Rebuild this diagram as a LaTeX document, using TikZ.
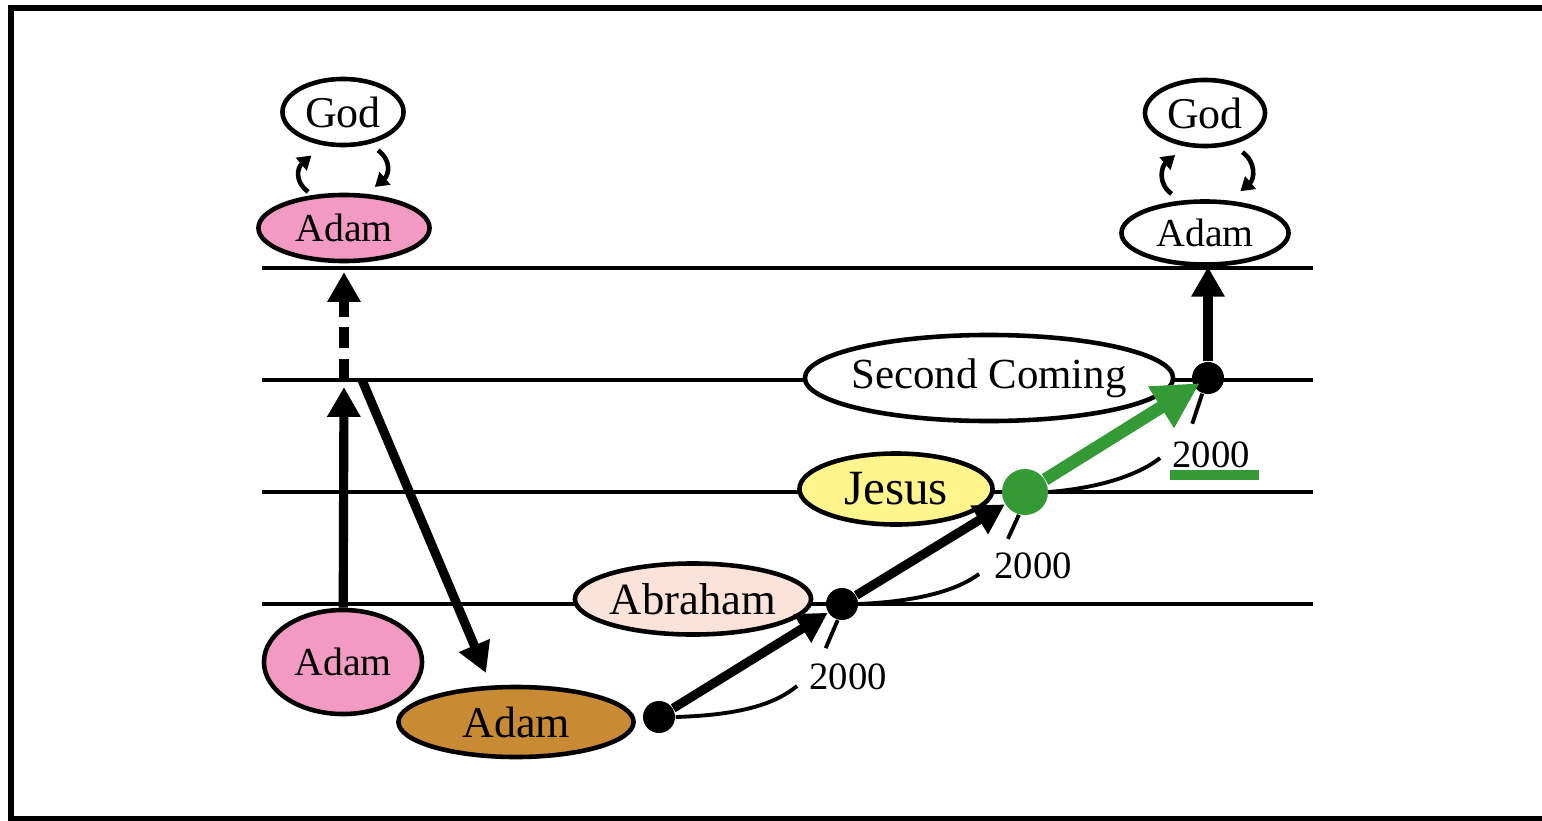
\documentclass[tikz,border=0pt]{standalone}
\usepackage{fontspec}
\setmainfont{Liberation Serif}
\usetikzlibrary{calc}
\usetikzlibrary{arrows.meta}
\usetikzlibrary{shapes.geometric}

\definecolor{adampink}{HTML}{F29AC2}
\definecolor{adambrown}{HTML}{C88B34}
\definecolor{abrahampeach}{HTML}{FCE3D9}
\definecolor{jesusyellow}{HTML}{FFF58C}
\definecolor{restgreen}{HTML}{339A36}

\tikzset{
  person/.style={ellipse, draw, line width=1.3pt, fill=white, inner sep=0pt},
  era/.style={line width=1.2pt},
  rise/.style={line width=2.6pt, -{Triangle[length=8.5pt,width=9pt]}},
  loopback/.style={line width=1.3pt, -{Triangle[length=3.8pt,width=4.6pt]}},
  dot/.style={circle, fill=black, inner sep=0pt, minimum size=.32cm},
  spanline/.style={line width=1.1pt},
  years/.style={inner sep=1pt, font=\fontsize{11}{13}\selectfont},
}

\begin{document}
\begin{tikzpicture}[x=.01cm, y=-.01cm]
\useasboundingbox (0,0) rectangle (1542,821);
\draw[line width=1.7pt] (1560,8) -- (11,8) -- (11,819) -- (1560,819);

% the four levels
\foreach \y in {268,380,492,604}
  \draw[era] (262,\y) -- (1313,\y);

\node[person, minimum width=1.21cm, minimum height=.66cm, font=\fontsize{12.5}{15}\selectfont] (godL) at (343,112) {God};
\node[person, fill=adampink, minimum width=1.71cm, minimum height=.66cm, font=\fontsize{11.3}{14}\selectfont] (adamP) at (344,228) {Adam};
\node[person, minimum width=1.20cm, minimum height=.66cm, font=\fontsize{12.5}{15}\selectfont] (godR) at (1205,113) {God};
\node[person, minimum width=1.67cm, minimum height=.63cm, font=\fontsize{11.3}{14}\selectfont] (adamR) at (1205,233) {Adam};
\node[person, inner xsep=-2.6pt, minimum width=3.68cm, minimum height=.86cm, font=\fontsize{12.2}{15}\selectfont] (second) at (989,378) {Second Coming};
\node[person, fill=jesusyellow, minimum width=1.93cm, minimum height=.71cm, font=\fontsize{14}{17}\selectfont] (jesus) at (896,489) {Jesus};
\node[person, fill=abrahampeach, minimum width=2.36cm, minimum height=.71cm, font=\fontsize{12.7}{15}\selectfont] (abraham) at (693,599) {Abraham};
\node[person, fill=adampink, minimum width=1.58cm, minimum height=1.04cm, font=\fontsize{11.3}{14}\selectfont] (adamA) at (343,662) {Adam};
\node[person, fill=adambrown, minimum width=2.35cm, minimum height=.70cm, font=\fontsize{12.5}{15}\selectfont] (adamC) at (516,722) {Adam};

% God and Adam
\draw[loopback] ([shift={(0,-4)}]adamP.138) .. controls +(-14,-10) and +(-14,12) .. ([shift={(0,13)}]godL.224);
\draw[loopback] ([shift={(0,9)}]godL.-40) .. controls +(14,10) and +(14,-12) .. ([shift={(0,-8)}]adamP.47);
\draw[loopback] ([shift={(0,-8)}]adamR.137) .. controls +(-14,-10) and +(-14,12) .. ([shift={(0,11)}]godR.226);
\draw[loopback] ([shift={(0,11)}]godR.-37) .. controls +(14,10) and +(14,-12) .. ([shift={(0,-11)}]adamR.41);

% fall
\coordinate (fall) at (344,380);
\coordinate (slip) at (362,380);
\coordinate (landing) at (486,673);
\draw[rise, shorten >=2pt] (adamA) -- (fall);
\draw[rise, dash pattern=on 6pt off 3pt, shorten >=2.5pt] (fall) -- (adamP);
\draw[rise] (slip) -- (landing);

% restoration
\node[dot] (d1) at (659,717) {};
\node[dot] (d2) at (842,604) {};
\node[dot, fill=restgreen, minimum size=.46cm] (g) at (1025,492) {};
\node[dot] (d3) at (1208,378) {};
\draw[rise] (d1) -- (d2);
\draw[rise] (d2) -- (g);
\draw[restgreen, line width=3.6pt, -{Triangle[length=13pt,width=13pt]}, shorten >=-2pt] (g) -- (d3);
\draw[rise] (d3) -- (d3 |- adamR.south);

\node[years] (y1) at (848,677) {2000};
\node[years] (y2) at (1033,566) {2000};
\node[years] (y3) at (1211,455) {2000};
\fill[restgreen] (1170,470) rectangle (1259,480);

\draw[spanline] (d1.east) .. controls +(65,-2) and +(-22,18) .. ([shift={(-8,9)}]y1.west);
\draw[spanline] (d2.east) .. controls +(67,-3) and +(-19,14) .. ([shift={(-11,8)}]y2.west);
\draw[spanline] (g.east) .. controls +(62,-5) and +(-15,12) .. ([shift={(-8,3)}]y3.west);
\draw[spanline] (d2.255) --++(-12,28);
\draw[spanline] (g.255) --++(-11,24);
\draw[spanline] (d3.250) --++(-10,30);
\end{tikzpicture}
\end{document}
